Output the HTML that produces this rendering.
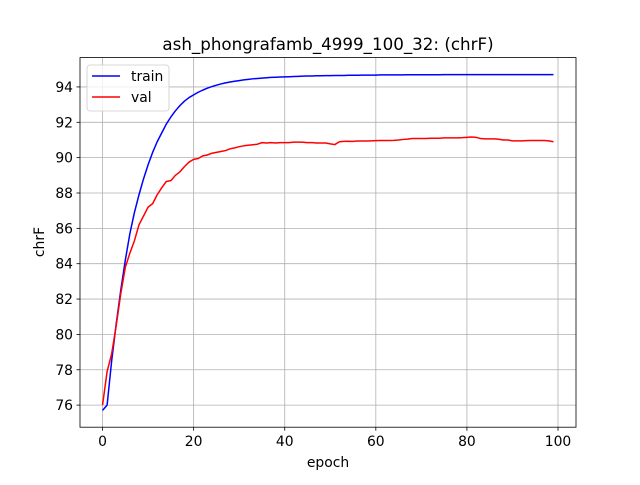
<!DOCTYPE html>
<html><head><meta charset="utf-8"><style>
body{margin:0;background:#fff;}
svg text{font-family:"DejaVu Sans","Liberation Sans",sans-serif;fill:#000;}
</style></head><body>
<svg id="chart" width="640" height="480"></svg>
<script>
const epochs=[];for(let i=0;i<100;i++)epochs.push(i);
const trainVals=[75.7,76.0,78.5,80.6,82.5,84.2,85.7,86.9,87.9,88.8,89.6,90.3,90.9,91.4,91.9,92.3,92.65,92.95,93.2,93.4,93.55,93.7,93.82,93.93,94.02,94.1,94.17,94.23,94.28,94.32,94.36,94.4,94.43,94.46,94.48,94.5,94.52,94.54,94.55,94.56,94.57,94.58,94.59,94.6,94.61,94.62,94.62,94.63,94.63,94.64,94.64,94.65,94.65,94.65,94.66,94.66,94.66,94.67,94.67,94.67,94.67,94.68,94.68,94.68,94.68,94.68,94.68,94.69,94.69,94.69,94.69,94.69,94.69,94.69,94.69,94.7,94.7,94.7,94.7,94.7,94.7,94.7,94.7,94.7,94.7,94.7,94.7,94.7,94.7,94.7,94.7,94.7,94.7,94.7,94.7,94.7,94.7,94.7,94.7,94.7];
const valVals=[76.0,77.9,78.9,80.5,82.3,83.8,84.6,85.3,86.2,86.7,87.2,87.4,87.9,88.3,88.65,88.7,89.0,89.2,89.5,89.75,89.9,89.95,90.1,90.15,90.25,90.3,90.35,90.4,90.5,90.55,90.62,90.67,90.7,90.73,90.76,90.85,90.83,90.85,90.83,90.85,90.85,90.85,90.88,90.88,90.87,90.85,90.85,90.83,90.83,90.83,90.78,90.74,90.9,90.92,90.93,90.92,90.94,90.94,90.94,90.95,90.96,90.97,90.97,90.97,90.98,91.0,91.03,91.05,91.08,91.08,91.08,91.08,91.1,91.1,91.1,91.12,91.12,91.12,91.12,91.13,91.15,91.17,91.15,91.08,91.06,91.06,91.06,91.04,91.0,91.0,90.95,90.95,90.95,90.96,90.97,90.97,90.97,90.97,90.95,90.9];
const xTicks=[0,20,40,60,80,100];
const yTicks=[76,78,80,82,84,86,88,90,92,94];
const L=80,R=576,T=57.6,B=427.2;
const xmin=-4.95,xmax=103.95,ymin=74.75,ymax=95.66;
const sx=v=>L+(v-xmin)/(xmax-xmin)*(R-L);
const sy=v=>B-(v-ymin)/(ymax-ymin)*(B-T);
const NS='http://www.w3.org/2000/svg';
const svg=document.getElementById('chart');
function mk(tag,attrs,parent){const e=document.createElementNS(NS,tag);for(const k in attrs)e.setAttribute(k,attrs[k]);(parent||svg).appendChild(e);return e;}
for(const t of xTicks){
 const g=mk('line',{x1:sx(t),x2:sx(t),y1:T,y2:B,stroke:'#b0b0b0','stroke-width':0.8});
 
 
 mk('line',{x1:sx(t),x2:sx(t),y1:B,y2:B+3.5,stroke:'#000','stroke-width':0.8});
 const tx=mk('text',{x:sx(t),y:B+19,'text-anchor':'middle','font-size':13.9});
 tx.textContent=t;
 
 
}
for(const t of yTicks){
 const g=mk('line',{x1:L,x2:R,y1:sy(t),y2:sy(t),stroke:'#b0b0b0','stroke-width':0.8});
 
 
 mk('line',{x1:L-3.5,x2:L,y1:sy(t),y2:sy(t),stroke:'#000','stroke-width':0.8});
 const tx=mk('text',{x:L-7,y:sy(t)+5,'text-anchor':'end','font-size':13.9});
 tx.textContent=t;
 
 
}
function line(vals,color,name){
 const p=mk('polyline',{points:vals.map((v,i)=>sx(epochs[i])+','+sy(v)).join(' '),fill:'none',stroke:color,'stroke-width':1.5,'stroke-linejoin':'round'});
 
 
}
line(trainVals,'#0000ff','train-line');
line(valVals,'#ff0000','val-line');
const fr=mk('rect',{x:L,y:T,width:R-L,height:B-T,fill:'none',stroke:'#000','stroke-width':0.8});


</script>
<svg width="640" height="480" style="position:absolute;left:0;top:0">
<text x="328" y="50" text-anchor="middle" font-size="16.7">ash_phongrafamb_4999_100_32: (chrF)</text>
<text x="328" y="467" text-anchor="middle" font-size="13.9">epoch</text>
<text x="44" y="242" text-anchor="middle" font-size="13.9" transform="rotate(-90 44 242)">chrF</text>
<g>
<rect x="87" y="65" width="82" height="46" rx="3" fill="#fff" fill-opacity="0.8" stroke="#ccc" stroke-width="0.8"/>
<g>
<line x1="92" x2="120" y1="76" y2="76" stroke="#0000ff" stroke-width="1.5"/>
<text x="131" y="81" font-size="13.9">train</text></g>
<g>
<line x1="92" x2="120" y1="97" y2="97" stroke="#ff0000" stroke-width="1.5"/>
<text x="131" y="102" font-size="13.9">val</text></g>
</g>
</svg>
</body></html>
